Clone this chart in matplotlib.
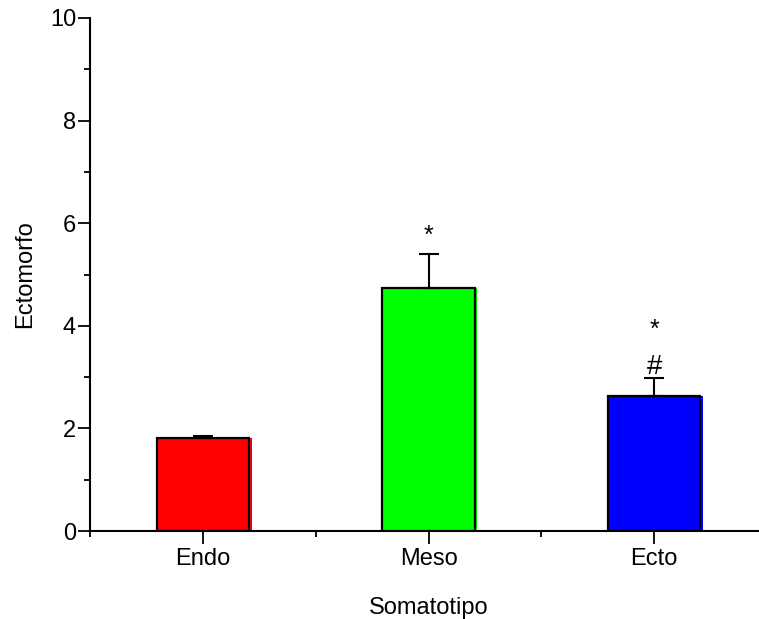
import numpy as np
import matplotlib.pyplot as plt
from matplotlib.ticker import MultipleLocator, FixedLocator

plt.rcParams['font.family'] = ['Liberation Sans', 'DejaVu Sans']

categories = ["Endo", "Meso", "Ecto"]
means = [1.81, 4.74, 2.64]
errors = [0.05, 0.66, 0.34]
colors = ["#ff0000", "#00ff00", "#0000ff"]

fig = plt.figure(figsize=(7.59, 6.19), dpi=100)
ax = fig.add_axes([90 / 759, 88 / 619, 677 / 759, 513 / 619])

x = np.arange(len(categories))
w = 0.41
# colored fill spills a little past the right edge, like the original export
ax.bar(x - w / 2, means, w + 0.012, align="edge", color=colors,
       edgecolor="none", zorder=2)
ax.bar(x, means, w, color="none", edgecolor="black", linewidth=1.6, zorder=3)
ax.errorbar(x, means, yerr=[np.zeros(3), errors], fmt="none", ecolor="black",
            elinewidth=1.5, capsize=7, capthick=1.5, zorder=4)

ax.text(1, 5.62, "*", ha="center", va="baseline", fontsize=18)
ax.text(2, 3.78, "*", ha="center", va="baseline", fontsize=18)
ax.text(2, 3.06, "#", ha="center", va="baseline", fontsize=20)

ax.set_xlim(-0.5, 2.5)
ax.set_ylim(0, 10)
ax.set_xticks(x)
ax.set_xticklabels(categories, fontsize=17)
ax.xaxis.set_minor_locator(FixedLocator([-0.5, 0.5, 1.5]))
ax.yaxis.set_major_locator(MultipleLocator(2))
ax.yaxis.set_minor_locator(MultipleLocator(1))
ax.tick_params(axis="y", which="major", length=9, width=1.3, labelsize=17, pad=1)
ax.tick_params(axis="y", which="minor", length=4.5, width=1.3)
ax.tick_params(axis="x", which="major", length=9, width=1.3, pad=3)
ax.tick_params(axis="x", which="minor", length=4.5, width=1.3)

for s in ["top", "right"]:
    ax.spines[s].set_visible(False)
for s in ["left", "bottom"]:
    ax.spines[s].set_linewidth(1.5)

ax.set_xlabel("Somatotipo", fontsize=17, labelpad=20)
ax.set_ylabel("Ectomorfo", fontsize=17, labelpad=10)

fig.savefig("out.png", dpi=100)
